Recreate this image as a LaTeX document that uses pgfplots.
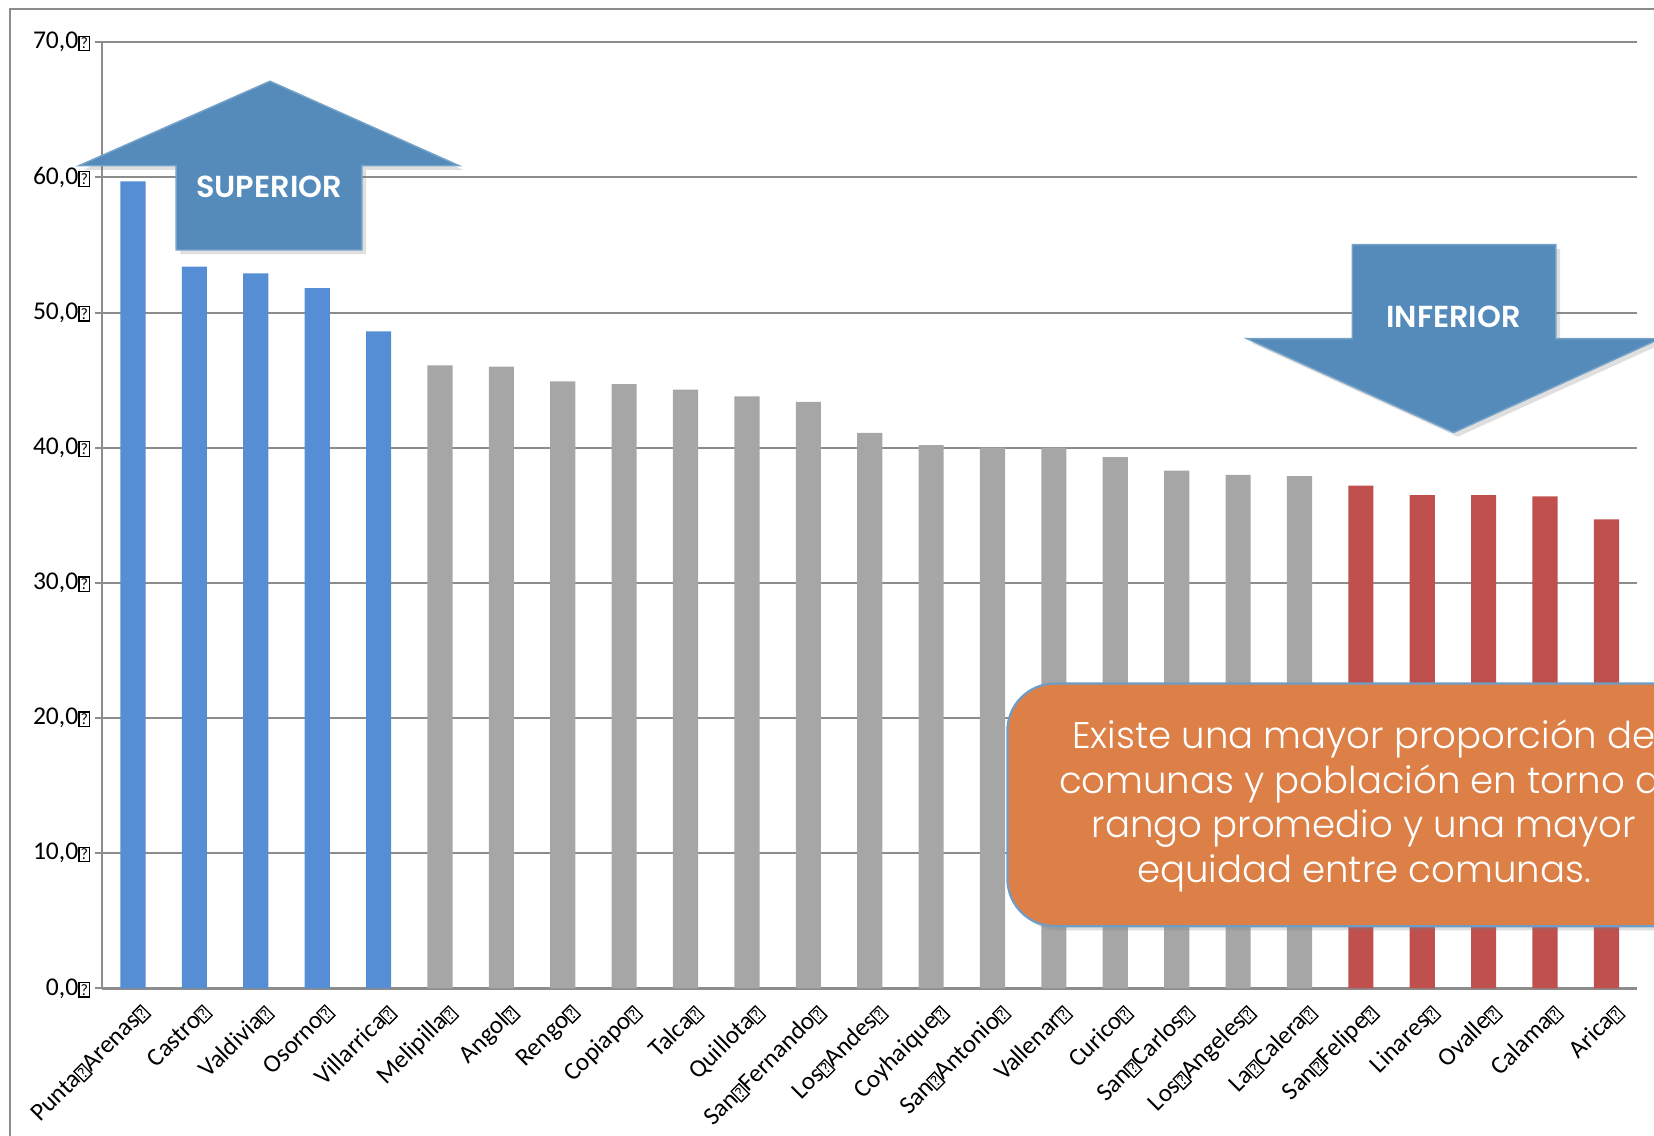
\documentclass[border=0pt]{standalone}
\usepackage{pgfplots}
\pgfplotsset{compat=1.18}
\usepackage{pgfplotstable}
\usetikzlibrary{shadows}
\usepackage{fontspec}
\setmainfont{Carlito}
\newfontfamily\gothic{Poppins Light}
\newfontfamily\gothicbold{Poppins SemiBold}

\definecolor{barblue}{HTML}{558ED5}
\definecolor{bargray}{HTML}{A6A6A6}
\definecolor{barred}{HTML}{C0504D}
\definecolor{arrowblue}{HTML}{548BBA}
\definecolor{boxorange}{HTML}{DD8047}
\definecolor{boxedge}{HTML}{6F9CC6}
\definecolor{gridgray}{HTML}{8C8C8C}

% the empty glyph box that stands in place of spaces in the original
\newcommand\qb{{\setlength\fboxsep{0.3pt}\setlength\fboxrule{0.35pt}\fbox{\fontsize{4.3}{5}\selectfont ?}}}

% comunas 1-5 (superior)
\pgfplotstableread{
x  val
1  59.7
2  53.4
3  52.9
4  51.8
5  48.6
}\superior
% comunas 6-20
\pgfplotstableread{
x  val
6  46.1
7  46.0
8  44.9
9  44.7
10 44.3
11 43.8
12 43.4
13 41.1
14 40.2
15 40.0
16 40.0
17 39.3
18 38.3
19 38.0
20 37.9
}\medio
% comunas 21-25 (inferior)
\pgfplotstableread{
x  val
21 37.2
22 36.5
23 36.5
24 36.4
25 34.7
}\inferior

\begin{document}
\begin{tikzpicture}
% page: 15.68 x 10.76 cm, the axis origin sits at (0.97,1.39) from its lower left corner
\useasboundingbox (-0.97,-1.39) rectangle (14.71,9.37);
\begin{scope}[shift={(-0.97,-1.39)}]
\draw[gridgray, line width=0.5pt] (0.095,-1) -- (0.095,10.675) -- (17,10.675);
\end{scope}

\begin{axis}[
  anchor=origin,
  scale only axis, width=14.55cm, height=8.97cm,
  xmin=0.5, xmax=25.5, ymin=0, ymax=70,
  axis x line*=bottom, axis y line*=left,
  axis line style={gridgray, line width=0.6pt},
  ymajorgrids, grid style={gridgray, line width=0.55pt},
  tick align=outside, major tick length=0.07cm,
  tick style={gridgray, line width=0.55pt},
  ytick={0,10,...,70},
  yticklabels={{0,0\qb},{10,0\qb},{20,0\qb},{30,0\qb},{40,0\qb},{50,0\qb},{60,0\qb},{70,0\qb}},
  yticklabel style={font=\fontsize{6.9}{8}\selectfont, inner sep=1pt},
  xtick={1,...,25},
  xtick style={draw=none},
  xticklabels={Punta\qb Arenas\qb, Castro\qb, Valdivia\qb, Osorno\qb, Villarrica\qb,
    Melipilla\qb, Angol\qb, Rengo\qb, Copiapo\qb, Talca\qb, Quillota\qb,
    San\qb Fernando\qb, Los\qb Andes\qb, Coyhaique\qb, San\qb Antonio\qb,
    Vallenar\qb, Curico\qb, San\qb Carlos\qb, Los\qb Angeles\qb, La\qb Calera\qb,
    San\qb Felipe\qb, Linares\qb, Ovalle\qb, Calama\qb, Arica\qb},
  xticklabel style={font=\fontsize{6.8}{8}\selectfont, inner sep=1pt, xshift=0.5mm, rotate=45, anchor=north east},
  extra x ticks={0.5,1.5,...,25.5},
  extra x tick labels={},
  extra x tick style={grid=none, tick style={gridgray, line width=0.55pt, draw=gridgray}},
  ybar, bar width=0.41, bar shift=0pt,
]
\addplot[fill=barblue, draw=none] table[x=x, y=val] {\superior};
\addplot[fill=bargray, draw=none] table[x=x, y=val] {\medio};
\addplot[fill=barred, draw=none] table[x=x, y=val] {\inferior};
\end{axis}

\begin{scope}[shift={(-0.97,-1.39)}]
\tikzset{softshadow/.style={drop shadow={opacity=0.25, shadow xshift=0.4mm, shadow yshift=-0.4mm}}}
% SUPERIOR arrow
\fill[arrowblue, draw=arrowblue!80!white, line width=0.4pt, softshadow]
  (2.56,9.99) -- (4.35,9.19) -- (3.43,9.19) -- (3.43,8.39) -- (1.67,8.39) -- (1.67,9.19) -- (0.75,9.19) -- cycle;
\node[text=white, font=\gothicbold\fontsize{8.2}{9}\selectfont] at (2.55,8.99) {SUPERIOR};

% INFERIOR arrow
\fill[arrowblue, draw=arrowblue!80!white, line width=0.4pt, softshadow]
  (12.82,8.44) -- (14.75,8.44) -- (14.75,7.55) -- (15.74,7.55) -- (13.78,6.66) -- (11.82,7.55) -- (12.82,7.55) -- cycle;
\node[text=white, font=\gothicbold\fontsize{8.2}{9}\selectfont] at (13.78,7.76) {INFERIOR};

% text box
\draw[fill=boxorange, draw=boxedge, line width=0.6pt, rounded corners=0.45cm, softshadow]
  (9.55,1.98) rectangle (16.31,4.28);
\node[text=white, font=\gothic\fontsize{10}{12}\selectfont, align=center] at (12.93,3.12)
  {Existe una mayor proporción de\\comunas y población en torno al\\rango promedio y una mayor\\equidad entre comunas.};
\end{scope}
\end{tikzpicture}
\end{document}
